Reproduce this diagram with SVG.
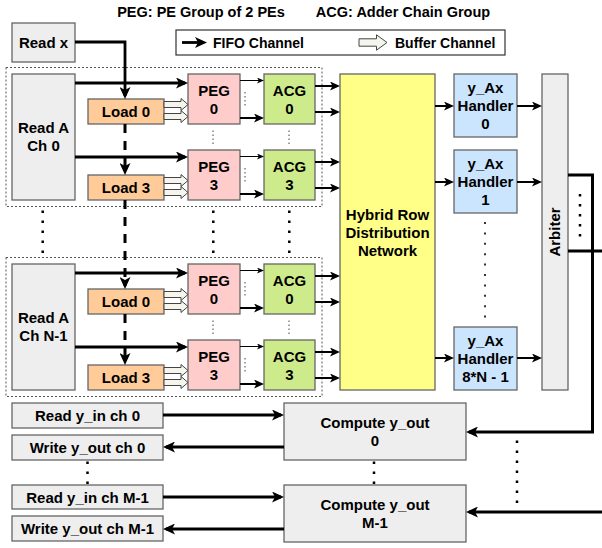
<svg xmlns="http://www.w3.org/2000/svg" width="602" height="548" viewBox="0 0 602 548">
<defs>
<style>
text{font-family:"Liberation Sans",Arial,Helvetica,sans-serif;font-weight:bold;fill:#000}
.n{font-size:15px;text-anchor:middle}
.t{font-size:14.5px;text-anchor:middle}
.lg{font-size:14px}
.box{stroke:#666;stroke-width:1.3}
.gray{fill:#eeeeee}
.load{fill:#ffcc99}
.peg{fill:#ffcccc}
.acg{fill:#cdeb8b}
.hr{fill:#ffff88}
.hd{fill:#cce5ff}
.grp{fill:none;stroke:#555;stroke-width:1;stroke-dasharray:2 2}
.w3{fill:none;stroke:#000;stroke-width:2.8}
.w2{fill:none;stroke:#000;stroke-width:2}
.w1{fill:none;stroke:#000;stroke-width:1}
.dash{fill:none;stroke:#000;stroke-width:3;stroke-dasharray:9 8}
.buf{fill:#f5f5ee;stroke:#444;stroke-width:1}
.dots{fill:none;stroke:#000;stroke-width:2.5;stroke-dasharray:2.5 7.5}
.dotsb{fill:none;stroke:#333;stroke-width:2;stroke-dasharray:2 8.4}
.sdots{fill:none;stroke:#444;stroke-width:1;stroke-dasharray:1.5 2.5}
.ab{fill:none;stroke:#000;stroke-width:3;stroke-linejoin:miter}
</style>
<marker id="ah" markerUnits="userSpaceOnUse" markerWidth="12" markerHeight="11" refX="9" refY="5.5" orient="auto">
<path d="M0,0 L12,5.5 L0,11 L3,5.5 Z" fill="#000"/>
</marker>
<marker id="am" markerUnits="userSpaceOnUse" markerWidth="10" markerHeight="9" refX="7.5" refY="4.5" orient="auto">
<path d="M0,0 L10,4.5 L0,9 L2.5,4.5 Z" fill="#000"/>
</marker>
<marker id="as" markerUnits="userSpaceOnUse" markerWidth="7" markerHeight="6" refX="5.5" refY="3" orient="auto">
<path d="M0,0 L7,3 L0,6 L1.8,3 Z" fill="#000"/>
</marker>
</defs>
<rect width="602" height="548" fill="#fff"/>

<g id="titles">
<text class="t" x="201" y="17">PEG: PE Group of 2 PEs</text>
<text class="t" x="403" y="17">ACG: Adder Chain Group</text>
</g>

<g id="legend">
<rect x="176" y="30" width="329" height="25" fill="#fff" stroke="#333" stroke-width="1.2"/>
<path class="w3" d="M182,42.5 H204" marker-end="url(#ah)"/>
<text class="lg" x="213" y="47.5">FIFO Channel</text>
<polygon class="buf" points="359,38.8 376.5,38.8 376.5,34.8 387,42.5 376.5,50.2 376.5,46.2 359,46.2"/>
<text class="lg" x="395" y="47.5">Buffer Channel</text>
</g>

<g id="groups">
<rect class="grp" x="6" y="67.5" width="316" height="139"/>
<rect class="grp" x="6" y="257.5" width="316" height="139"/>
</g>

<g id="read-x"><rect class="box gray" x="12" y="23" width="63" height="39"/><text class="n" x="43.5" y="47.8">Read x</text></g>

<g id="read-a-0"><rect class="box gray" x="12" y="74" width="63" height="126"/><text class="n" x="43.5" y="133">Read A</text><text class="n" x="43.5" y="151">Ch 0</text></g>
<g id="load-0-0"><rect class="box load" x="88" y="99" width="76" height="25"/><text class="n" x="126" y="117">Load 0</text></g>
<g id="load-3-0"><rect class="box load" x="88" y="175" width="76" height="25"/><text class="n" x="126" y="193">Load 3</text></g>
<g id="peg-0-0"><rect class="box peg" x="188" y="74" width="52" height="50"/><text class="n" x="214" y="96">PEG</text><text class="n" x="214" y="114">0</text></g>
<g id="peg-3-0"><rect class="box peg" x="188" y="150" width="52" height="50"/><text class="n" x="214" y="172">PEG</text><text class="n" x="214" y="190">3</text></g>
<g id="acg-0-0"><rect class="box acg" x="264" y="74" width="51" height="50"/><text class="n" x="289.5" y="96">ACG</text><text class="n" x="289.5" y="114">0</text></g>
<g id="acg-3-0"><rect class="box acg" x="264" y="150" width="51" height="50"/><text class="n" x="289.5" y="172">ACG</text><text class="n" x="289.5" y="190">3</text></g>

<g id="read-a-n"><rect class="box gray" x="12" y="264" width="63" height="126"/><text class="n" x="43.5" y="323">Read A</text><text class="n" x="43.5" y="341">Ch N-1</text></g>
<g id="load-0-n"><rect class="box load" x="88" y="289" width="76" height="25"/><text class="n" x="126" y="307">Load 0</text></g>
<g id="load-3-n"><rect class="box load" x="88" y="365" width="76" height="25"/><text class="n" x="126" y="383">Load 3</text></g>
<g id="peg-0-n"><rect class="box peg" x="188" y="264" width="52" height="50"/><text class="n" x="214" y="286">PEG</text><text class="n" x="214" y="304">0</text></g>
<g id="peg-3-n"><rect class="box peg" x="188" y="340" width="52" height="50"/><text class="n" x="214" y="362">PEG</text><text class="n" x="214" y="380">3</text></g>
<g id="acg-0-n"><rect class="box acg" x="264" y="264" width="51" height="50"/><text class="n" x="289.5" y="286">ACG</text><text class="n" x="289.5" y="304">0</text></g>
<g id="acg-3-n"><rect class="box acg" x="264" y="340" width="51" height="50"/><text class="n" x="289.5" y="362">ACG</text><text class="n" x="289.5" y="380">3</text></g>

<g id="hrdn"><rect class="box hr" x="340" y="74" width="95" height="316"/><text class="n" x="387.5" y="219.5">Hybrid Row</text><text class="n" x="387.5" y="237.5">Distribution</text><text class="n" x="387.5" y="255.5">Network</text></g>

<g id="handler-0"><rect class="box hd" x="454" y="74" width="63" height="63"/><text class="n" x="485.5" y="93">y_Ax</text><text class="n" x="485.5" y="111">Handler</text><text class="n" x="485.5" y="129">0</text></g>
<g id="handler-1"><rect class="box hd" x="454" y="150" width="63" height="63"/><text class="n" x="485.5" y="169">y_Ax</text><text class="n" x="485.5" y="187">Handler</text><text class="n" x="485.5" y="205">1</text></g>
<g id="handler-n"><rect class="box hd" x="454" y="327" width="63" height="63"/><text class="n" x="485.5" y="346">y_Ax</text><text class="n" x="485.5" y="364">Handler</text><text class="n" x="485.5" y="382">8*N - 1</text></g>

<g id="arbiter"><rect class="box gray" x="542" y="74" width="26" height="316"/><text class="n" transform="translate(560.3,232) rotate(-90)" x="0" y="0">Arbiter</text></g>

<g id="read-y-0"><rect class="box gray" x="12" y="403" width="151" height="25"/><text class="n" x="87.5" y="421">Read y_in ch 0</text></g>
<g id="write-y-0"><rect class="box gray" x="12" y="435" width="151" height="25"/><text class="n" x="87.5" y="453">Write y_out ch 0</text></g>
<g id="read-y-m"><rect class="box gray" x="12" y="485" width="151" height="24"/><text class="n" x="87.5" y="502.5">Read y_in ch M-1</text></g>
<g id="write-y-m"><rect class="box gray" x="12" y="516" width="151" height="25"/><text class="n" x="87.5" y="534">Write y_out ch M-1</text></g>
<g id="compute-0"><rect class="box gray" x="284" y="403" width="182" height="57"/><text class="n" x="375" y="427.5">Compute y_out</text><text class="n" x="375" y="445.5">0</text></g>
<g id="compute-m"><rect class="box gray" x="284" y="485" width="182" height="57"/><text class="n" x="375" y="509.5">Compute y_out</text><text class="n" x="375" y="527.5">M-1</text></g>

<g id="connectors">
<path class="w3" d="M75,42 H125 V96" marker-end="url(#ah)"/>
<path class="dash" d="M125,124 V172" marker-end="url(#ah)"/>
<path class="dash" d="M125,200 V286" marker-end="url(#ah)"/>
<path class="dash" d="M125,314 V362" marker-end="url(#ah)"/>

<path class="w3" d="M75,83 H185" marker-end="url(#ah)"/>
<path class="w3" d="M75,157 H185" marker-end="url(#ah)"/>
<path class="w3" d="M75,273 H185" marker-end="url(#ah)"/>
<path class="w3" d="M75,347 H185" marker-end="url(#ah)"/>

<polygon class="buf" points="164,101.5 181,101.5 181,98.5 188,104.5 181,110.5 181,107.5 164,107.5"/>
<polygon class="buf" points="164,113.5 181,113.5 181,110.5 188,116.5 181,122.5 181,119.5 164,119.5"/>
<polygon class="buf" points="164,177.5 181,177.5 181,174.5 188,180.5 181,186.5 181,183.5 164,183.5"/>
<polygon class="buf" points="164,189.5 181,189.5 181,186.5 188,192.5 181,198.5 181,195.5 164,195.5"/>
<polygon class="buf" points="164,291.5 181,291.5 181,288.5 188,294.5 181,300.5 181,297.5 164,297.5"/>
<polygon class="buf" points="164,303.5 181,303.5 181,300.5 188,306.5 181,312.5 181,309.5 164,309.5"/>
<polygon class="buf" points="164,367.5 181,367.5 181,364.5 188,370.5 181,376.5 181,373.5 164,373.5"/>
<polygon class="buf" points="164,379.5 181,379.5 181,376.5 188,382.5 181,388.5 181,385.5 164,385.5"/>

<path class="w1" d="M240,80.5 H262.5" marker-end="url(#as)"/>
<path class="w2" d="M240,118 H261.5" marker-end="url(#am)"/>
<path class="w1" d="M240,156.5 H262.5" marker-end="url(#as)"/>
<path class="w2" d="M240,194 H261.5" marker-end="url(#am)"/>
<path class="w1" d="M240,270.5 H262.5" marker-end="url(#as)"/>
<path class="w2" d="M240,308 H261.5" marker-end="url(#am)"/>
<path class="w1" d="M240,346.5 H262.5" marker-end="url(#as)"/>
<path class="w2" d="M240,384 H261.5" marker-end="url(#am)"/>

<path class="w2" d="M315,86 H337.5" marker-end="url(#am)"/>
<path class="w2" d="M315,112 H337.5" marker-end="url(#am)"/>
<path class="w2" d="M315,162 H337.5" marker-end="url(#am)"/>
<path class="w2" d="M315,188 H337.5" marker-end="url(#am)"/>
<path class="w2" d="M315,276 H337.5" marker-end="url(#am)"/>
<path class="w2" d="M315,302 H337.5" marker-end="url(#am)"/>
<path class="w2" d="M315,352 H337.5" marker-end="url(#am)"/>
<path class="w2" d="M315,378 H337.5" marker-end="url(#am)"/>

<path class="w2" d="M435,106 H451.5" marker-end="url(#am)"/>
<path class="w2" d="M435,182 H451.5" marker-end="url(#am)"/>
<path class="w2" d="M435,358 H451.5" marker-end="url(#am)"/>
<path class="w2" d="M517,106 H539.5" marker-end="url(#am)"/>
<path class="w2" d="M517,182 H539.5" marker-end="url(#am)"/>
<path class="w2" d="M517,358 H539.5" marker-end="url(#am)"/>

<path class="ab" d="M568,175 H592.5 V432 H469" marker-end="url(#ah)"/>
<path class="ab" d="M568,251 H602"/>
<path class="ab" d="M602,512 H469" marker-end="url(#ah)"/>

<path class="w3" d="M163,415 H281" marker-end="url(#ah)"/>
<path class="w3" d="M284,447 H166" marker-end="url(#ah)"/>
<path class="w3" d="M163,497 H281" marker-end="url(#ah)"/>
<path class="w3" d="M284,529 H166" marker-end="url(#ah)"/>

<path class="sdots" d="M245,92 V106 M245,168 V182 M245,282 V296 M245,358 V372"/>
<path class="sdots" d="M213,130.5 V144 M289,130.5 V144 M213,320.5 V334 M289,320.5 V334"/>
<path class="dots" d="M42.7,210.5 V254 M213.3,210.5 V254 M289.3,210.5 V254"/>
<path class="dotsb" d="M485,222 V318"/>
<path class="dots" d="M580,194 V237"/>
<path class="dots" d="M517,440.5 V503"/>
<path class="dots" d="M87.5,461.5 V485 M374,461.5 V485"/>
</g>
</svg>
